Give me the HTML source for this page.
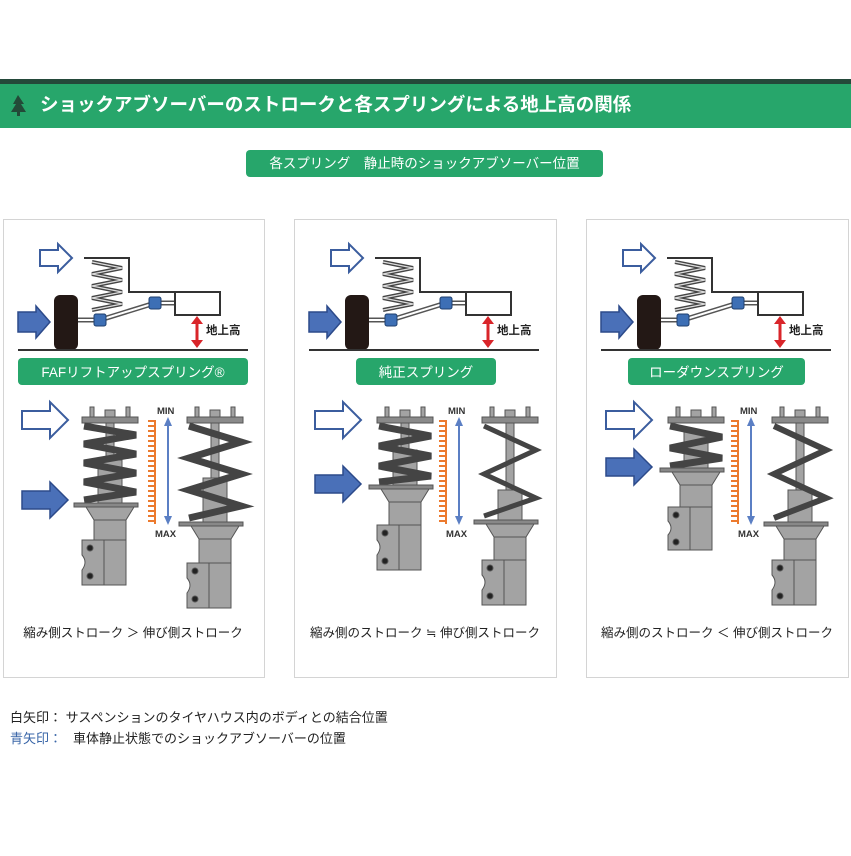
<!DOCTYPE html>
<html><head><meta charset="utf-8"><style>
body{margin:0;background:#fff}
svg text{font-family:"Liberation Sans","Noto Sans CJK JP",sans-serif}
</style></head><body>
<svg width="851" height="851" viewBox="0 0 851 851" xmlns="http://www.w3.org/2000/svg">
<defs>
<pattern id="tk" width="8" height="5" patternUnits="userSpaceOnUse"><rect x="0" y="0" width="8" height="2" fill="#ec7a2e"/></pattern>
<g id="wa"><polygon points="0,6 18,6 18,0 32,14 18,28 18,22 0,22" fill="#fff" stroke="#3b5d9e" stroke-width="2"/></g>
<g id="ba"><polygon points="0,6 18,6 18,0 32,16 18,32 18,26 0,26" fill="#4a70b8" stroke="#2c4a8a" stroke-width="1.5"/></g>
<g id="wa2"><polygon points="0,9 28,9 28,0 46,18 28,36 28,27 0,27" fill="#fff" stroke="#3b5d9e" stroke-width="2"/></g>
<g id="ba2"><polygon points="0,9 28,9 28,0 46,18 28,36 28,27 0,27" fill="#4a70b8" stroke="#2c4a8a" stroke-width="1.5"/></g>
<g id="top">
<use href="#wa" x="40" y="244"/>
<use href="#ba" x="18" y="306"/>
<polyline points="84,258 129,258 129,292 175,292" fill="none" stroke="#333" stroke-width="2"/>
<polyline points="92,262 122,268 92,274 122,280 92,286 122,292 92,298 122,304 92,310" fill="none" stroke="#444" stroke-width="4"/>
<polyline points="92,262 122,268 92,274 122,280 92,286 122,292 92,298 122,304 92,310" fill="none" stroke="#ddd" stroke-width="1.3"/>
<polyline points="78,320 100,320 155,303 175,303" fill="none" stroke="#555" stroke-width="5"/>
<polyline points="78,320 100,320 155,303 175,303" fill="none" stroke="#fff" stroke-width="2"/>
<rect x="175" y="292" width="45" height="23" fill="#fff" stroke="#333" stroke-width="2"/>
<rect x="54" y="295" width="24" height="55" rx="6" fill="#231815"/>
<rect x="94" y="314" width="12" height="12" rx="2" fill="#3d6fb5" stroke="#1f3f6e"/>
<rect x="149" y="297" width="12" height="12" rx="2" fill="#3d6fb5" stroke="#1f3f6e"/>
<line x1="18" y1="350" x2="248" y2="350" stroke="#333" stroke-width="2"/>
<line x1="197" y1="322" x2="197" y2="342" stroke="#d9252a" stroke-width="3"/>
<polygon points="191,324 197,316 203,324" fill="#d9252a"/><polygon points="191,340 197,348 203,340" fill="#d9252a"/>
<text x="206" y="334" font-size="11.5" font-weight="bold" fill="#222">地上高</text>
</g>
<g id="scale">
<rect x="148" y="420" width="8" height="104" fill="url(#tk)"/>
<line x1="155" y1="420" x2="155" y2="524" stroke="#ec7a2e" stroke-width="2"/>
<line x1="168" y1="424" x2="168" y2="518" stroke="#5b7fc4" stroke-width="2"/>
<polygon points="164,426 168,417 172,426" fill="#5b7fc4"/><polygon points="164,516 168,525 172,516" fill="#5b7fc4"/>
<text x="157" y="414" font-size="9.5" font-weight="bold" fill="#333">MIN</text>
<text x="155" y="537" font-size="9.5" font-weight="bold" fill="#333">MAX</text>
</g>
</defs>
<!-- header -->
<rect x="0" y="79" width="851" height="5" fill="#24493a"/>
<rect x="0" y="84" width="851" height="44" fill="#27a66b"/>
<polygon points="18,95 13,104 16,104 11,112 17,112 17,116 20,116 20,112 26,112 21,104 24,104" fill="#234a38"/>
<text x="40" y="111" font-size="18.5" font-weight="bold" fill="#fff">ショックアブソーバーのストロークと各スプリングによる地上高の関係</text>
<rect x="246" y="150" width="357" height="27" rx="4" fill="#27a66b"/>
<text x="424.5" y="168" font-size="13.5" fill="#fff" text-anchor="middle">各スプリング　静止時のショックアブソーバー位置</text>
<!-- panels -->
<rect x="3.5" y="219.5" width="261" height="458" fill="#fff" stroke="#d4d4d4"/>
<rect x="294.5" y="219.5" width="262" height="458" fill="#fff" stroke="#d4d4d4"/>
<rect x="586.5" y="219.5" width="262" height="458" fill="#fff" stroke="#d4d4d4"/>
<use href="#top"/>
<use href="#top" x="291" y="0"/>
<use href="#top" x="583" y="0"/>
<rect x="18" y="358" width="230" height="27" rx="4" fill="#27a66b"/>
<text x="133" y="377" font-size="13.5" fill="#fff" text-anchor="middle">FAFリフトアップスプリング®</text>
<rect x="356" y="358" width="140" height="27" rx="4" fill="#27a66b"/>
<text x="426" y="377" font-size="13.5" fill="#fff" text-anchor="middle">純正スプリング</text>
<rect x="628" y="358" width="177" height="27" rx="4" fill="#27a66b"/>
<text x="716.5" y="377" font-size="13.5" fill="#fff" text-anchor="middle">ローダウンスプリング</text>
<!-- lower arrows -->
<use href="#wa2" x="22" y="402"/><use href="#ba2" x="22" y="482"/>
<use href="#wa2" x="315" y="402"/><use href="#ba2" x="315" y="466"/>
<use href="#wa2" x="606" y="402"/><use href="#ba2" x="606" y="449"/>
<use href="#scale"/><use href="#scale" x="291"/><use href="#scale" x="583"/>
<!-- struts -->
<g fill="#a3a3a3" stroke="#555" stroke-width="1">
<!-- strut template inline: cx, plate, bottom -->
<!-- P1A cx110 plate503 bottom585 -->
<g transform="translate(110,0)">
<rect x="-20" y="407" width="4" height="11"/><rect x="16" y="407" width="4" height="11"/><rect x="-5" y="410" width="10" height="8"/>
<rect x="-28" y="417" width="56" height="6" fill="#8a8a8a"/>
<rect x="-4" y="423" width="8" height="40"/><rect x="-12" y="460" width="24" height="43"/>
<polyline points="-26,426 26,435 -26,444 26,454 -26,463 26,473 -26,482 26,492 -26,500" fill="none" stroke="#444" stroke-width="7"/>
<rect x="-36" y="503" width="64" height="4" fill="#888"/>
<polygon points="-24,507 24,507 16,520 -16,520"/>
<rect x="-16" y="520" width="32" height="65"/>
<path d="M-28,540 H16 V585 H-28 V570 Q-22,562 -28,555 Z"/>
<line x1="-6" y1="540" x2="-6" y2="585"/>
<circle cx="-20" cy="548" r="3" fill="#222"/><circle cx="-20" cy="576" r="3" fill="#222"/>
</g>
<!-- P1B -->
<g transform="translate(215,0)">
<rect x="-20" y="407" width="4" height="11"/><rect x="16" y="407" width="4" height="11"/><rect x="-5" y="410" width="10" height="8"/>
<rect x="-28" y="417" width="56" height="6" fill="#8a8a8a"/>
<rect x="-4" y="423" width="8" height="60"/><rect x="-12" y="478" width="24" height="44"/>
<polyline points="-26,426 26,442 -26,458 26,474 -26,490 26,506 -26,518" fill="none" stroke="#444" stroke-width="7"/>
<rect x="-36" y="522" width="64" height="4" fill="#888"/>
<polygon points="-24,526 24,526 16,539 -16,539"/>
<rect x="-16" y="539" width="32" height="69"/>
<path d="M-28,563 H16 V608 H-28 V593 Q-22,585 -28,578 Z"/>
<line x1="-6" y1="563" x2="-6" y2="608"/>
<circle cx="-20" cy="571" r="3" fill="#222"/><circle cx="-20" cy="599" r="3" fill="#222"/>
</g>
<!-- P2A -->
<g transform="translate(405,0)">
<rect x="-20" y="407" width="4" height="11"/><rect x="16" y="407" width="4" height="11"/><rect x="-5" y="410" width="10" height="8"/>
<rect x="-28" y="417" width="56" height="6" fill="#8a8a8a"/>
<rect x="-4" y="423" width="8" height="30"/><rect x="-12" y="450" width="24" height="35"/>
<polyline points="-26,426 26,436 -26,446 26,456 -26,466 26,476 -26,482" fill="none" stroke="#444" stroke-width="7"/>
<rect x="-36" y="485" width="64" height="4" fill="#888"/>
<polygon points="-24,489 24,489 16,502 -16,502"/>
<rect x="-16" y="502" width="32" height="68"/>
<path d="M-28,525 H16 V570 H-28 V555 Q-22,547 -28,540 Z"/>
<line x1="-6" y1="525" x2="-6" y2="570"/>
<circle cx="-20" cy="533" r="3" fill="#222"/><circle cx="-20" cy="561" r="3" fill="#222"/>
</g>
<!-- P2B -->
<g transform="translate(510,0)">
<rect x="-20" y="407" width="4" height="11"/><rect x="16" y="407" width="4" height="11"/><rect x="-5" y="410" width="10" height="8"/>
<rect x="-28" y="417" width="56" height="6" fill="#8a8a8a"/>
<rect x="-4" y="423" width="8" height="70"/><rect x="-12" y="490" width="24" height="30"/>
<polyline points="-26,426 26,450 -26,474 26,498 -26,516" fill="none" stroke="#444" stroke-width="5"/>
<rect x="-36" y="520" width="64" height="4" fill="#888"/>
<polygon points="-24,524 24,524 16,537 -16,537"/>
<rect x="-16" y="537" width="32" height="68"/>
<path d="M-28,560 H16 V605 H-28 V590 Q-22,582 -28,575 Z"/>
<line x1="-6" y1="560" x2="-6" y2="605"/>
<circle cx="-20" cy="568" r="3" fill="#222"/><circle cx="-20" cy="596" r="3" fill="#222"/>
</g>
<!-- P3A -->
<g transform="translate(696,0)">
<rect x="-20" y="407" width="4" height="11"/><rect x="16" y="407" width="4" height="11"/><rect x="-5" y="410" width="10" height="8"/>
<rect x="-28" y="417" width="56" height="6" fill="#8a8a8a"/>
<rect x="-12" y="432" width="24" height="36"/>
<polyline points="-26,426 26,437 -26,448 26,458 -26,466" fill="none" stroke="#444" stroke-width="7"/>
<rect x="-36" y="468" width="64" height="4" fill="#888"/>
<polygon points="-24,472 24,472 16,485 -16,485"/>
<rect x="-16" y="485" width="32" height="65"/>
<path d="M-28,507 H16 V550 H-28 V535 Q-22,528 -28,521 Z"/>
<line x1="-6" y1="507" x2="-6" y2="550"/>
<circle cx="-20" cy="515" r="3" fill="#222"/><circle cx="-20" cy="542" r="3" fill="#222"/>
</g>
<!-- P3B -->
<g transform="translate(800,0)">
<rect x="-20" y="407" width="4" height="11"/><rect x="16" y="407" width="4" height="11"/><rect x="-5" y="410" width="10" height="8"/>
<rect x="-28" y="417" width="56" height="6" fill="#8a8a8a"/>
<rect x="-4" y="423" width="8" height="70"/><rect x="-12" y="490" width="24" height="32"/>
<polyline points="-26,426 26,450 -26,474 26,498 -26,518" fill="none" stroke="#444" stroke-width="6"/>
<rect x="-36" y="522" width="64" height="4" fill="#888"/>
<polygon points="-24,526 24,526 16,539 -16,539"/>
<rect x="-16" y="539" width="32" height="66"/>
<path d="M-28,560 H16 V605 H-28 V590 Q-22,582 -28,575 Z"/>
<line x1="-6" y1="560" x2="-6" y2="605"/>
<circle cx="-20" cy="568" r="3" fill="#222"/><circle cx="-20" cy="596" r="3" fill="#222"/>
</g>
</g>
<!-- captions -->
<text x="133" y="637" font-size="12.5" fill="#222" text-anchor="middle">縮み側ストローク ＞ 伸び側ストローク</text>
<text x="425" y="637" font-size="12.5" fill="#222" text-anchor="middle">縮み側のストローク ≒ 伸び側ストローク</text>
<text x="717" y="637" font-size="12.5" fill="#222" text-anchor="middle">縮み側のストローク ＜ 伸び側ストローク</text>
<text x="10" y="722" font-size="13" fill="#222">白矢印：  サスペンションのタイヤハウス内のボディとの結合位置</text>
<text x="10" y="743" font-size="13" fill="#3a66a8">青矢印：</text>
<text x="73" y="743" font-size="13" fill="#222">車体静止状態でのショックアブソーバーの位置</text>
</svg>
</body></html>
